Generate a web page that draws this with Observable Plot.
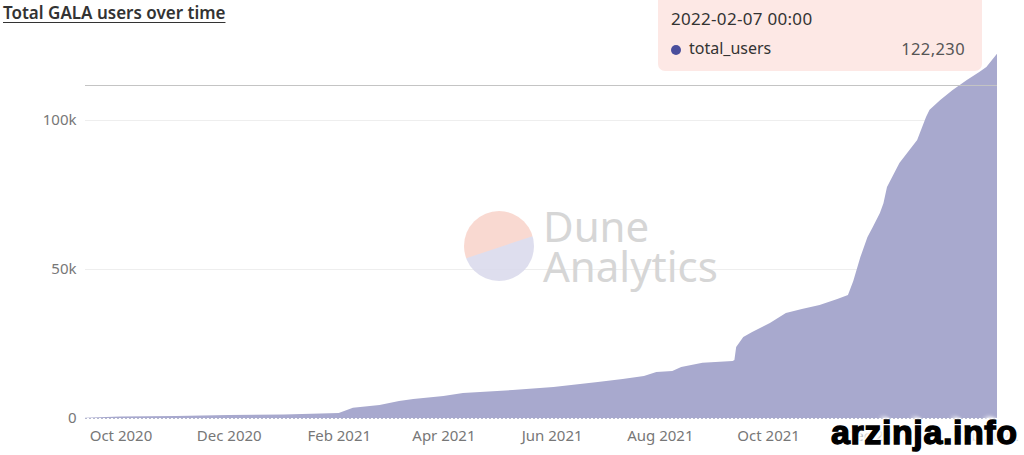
<!DOCTYPE html>
<html>
<head>
<meta charset="utf-8">
<script src="https://cdn.jsdelivr.net/npm/d3@7"></script>
<script src="https://cdn.jsdelivr.net/npm/@observablehq/plot@0.6"></script>
<style>
  html, body { margin: 0; padding: 0; background: #fff; }
  body { width: 1024px; height: 455px; position: relative; overflow: hidden; font-family: "Noto Sans", sans-serif; }
  #title { position: absolute; left: 3px; top: 1px; font-size: 17px; font-weight: 600; color: #333; text-decoration: underline; text-underline-offset: 3px; z-index: 3; letter-spacing: 0px; }
  #chart { position: absolute; left: 0; top: 0; }
  #tip { position: absolute; left: 658px; top: -6px; width: 324px; height: 77px; background: #fde8e5; border-radius: 7px; z-index: 4; color: #333; }
  #tip .date { position: absolute; left: 13px; top: 13px; font-size: 17px; letter-spacing: 0.3px; }
  #tip .dot { position: absolute; left: 13px; top: 51px; width: 10px; height: 10px; border-radius: 50%; background: #4a4e9c; }
  #tip .name { position: absolute; left: 31px; top: 43px; font-size: 16px; }
  #tip .val { position: absolute; right: 17px; top: 43px; font-size: 16.5px; color: #555; letter-spacing: 0.4px; }
  #wm { position: absolute; left: 0; top: 0; pointer-events: none; z-index: 2; }
  #arz { position: absolute; left: 831px; top: 413px; font-family: "Liberation Sans", Arial, sans-serif; font-weight: 700; font-size: 34px; color: #000; z-index: 5; -webkit-text-stroke: 1.4px #000;
         text-shadow: 0 0 4px #fff, 2px 0 3px #fff, -2px 0 3px #fff, 0 2px 3px #fff, 0 -2px 3px #fff, 3px 3px 4px #fff, -3px -3px 4px #fff; letter-spacing: 0.6px; }
</style>
</head>
<body>
<div id="title">Total GALA users over time</div>
<div id="chart"></div>
<svg id="wm" width="1024" height="455">
  <defs>
    <clipPath id="circ"><circle cx="499" cy="246" r="35"/></clipPath>
  </defs>
  <g clip-path="url(#circ)" opacity="0.85">
    <rect x="460" y="205" width="80" height="85" fill="#f8d3c9"/>
    <polygon points="455,262 545,232 545,290 455,290" fill="#d9d9ec"/>
  </g>
  <text x="543" y="242" font-family="Noto Sans, sans-serif" font-size="42" fill="#d6d6d6">Dune</text>
  <text x="543" y="282" font-family="Noto Sans, sans-serif" font-size="42" fill="#d6d6d6">Analytics</text>
</svg>
<div id="tip"></div>
<div id="arz">arzinja.info</div>
<script>
const dates = ["2020-09-11","2020-10-01","2020-11-01","2020-12-01","2021-01-01","2021-02-01","2021-02-09","2021-02-24","2021-03-07","2021-03-15","2021-04-01","2021-04-12","2021-05-10","2021-06-02","2021-06-27","2021-07-11","2021-07-23","2021-07-30","2021-08-08","2021-08-13","2021-08-25","2021-09-11","2021-09-12","2021-09-13","2021-09-17","2021-09-22","2021-10-02","2021-10-11","2021-10-20","2021-10-30","2021-11-09","2021-11-15","2021-11-18","2021-11-22","2021-11-26","2021-11-29","2021-12-03","2021-12-05","2021-12-07","2021-12-14","2021-12-24","2021-12-29","2021-12-31","2022-01-06","2022-01-13","2022-01-21","2022-01-28","2022-02-01","2022-02-07"];
const totalUsers = [50,500,700,1000,1200,1700,3400,4400,5700,6400,7400,8400,9400,10400,12100,13100,14100,15400,15800,17100,18500,19100,19500,23800,27200,28900,31900,35200,36600,37900,39900,41300,46000,54000,60700,64100,68800,72100,77500,85600,93300,101000,103400,106700,110100,113400,116100,117800,122230];
const xTickLabels = ["2020-10-01","2020-12-01","2021-02-01","2021-04-01","2021-06-01","2021-08-01","2021-10-01","2021-12-01","2022-02-01"];
const yTicks = [0, 50000, 100000];
const crosshairValue = 111750;
const tooltipDate = "2022-02-07 00:00";
const seriesName = "total_users";

const parse = d3.utcParse("%Y-%m-%d");
const data = dates.map((d, i) => ({date: parse(d), users: totalUsers[i]}));
const last = data[data.length - 1];

const chart = Plot.plot({
  width: 1024,
  height: 455,
  marginLeft: 85,
  marginRight: 27,
  marginTop: 45.5,
  marginBottom: 37,
  style: {fontFamily: "Noto Sans, sans-serif", fontSize: "15px", color: "#777", background: "transparent"},
  x: {type: "utc", domain: [data[0].date, last.date], label: null},
  y: {domain: [0, 125000], label: null},
  marks: [
    Plot.ruleY(yTicks.filter(v => v > 0), {stroke: "#eeeeee", strokeWidth: 1}),
    Plot.areaY(data, {x: "date", y: "users", fill: "#a8a9ce", curve: "linear"}),
    Plot.ruleY([0], {stroke: "#b5b8d0", strokeDasharray: "2,2", strokeWidth: 1}),
    Plot.ruleY([crosshairValue], {stroke: "#c4c4c4", strokeWidth: 1}),
    Plot.axisX({ticks: xTickLabels.map(parse), tickFormat: d3.utcFormat("%b %Y"), tickSize: 0, tickPadding: 12, fill: "#777", fontSize: 15}),
    Plot.axisY({ticks: yTicks, tickFormat: d => d === 0 ? "0" : (d / 1000) + "k", tickSize: 0, tickPadding: 9, fill: "#777", fontSize: 15})
  ]
});
document.getElementById("chart").appendChild(chart);

const tip = document.getElementById("tip");
tip.innerHTML = `<div class="date">${tooltipDate}</div><div class="dot"></div><div class="name">${seriesName}</div><div class="val">${d3.format(",")(last.users)}</div>`;
</script>
</body>
</html>
